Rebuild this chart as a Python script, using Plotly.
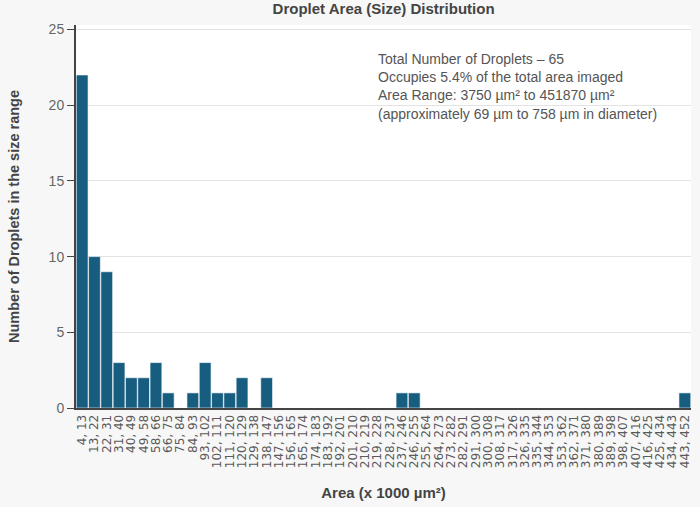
import plotly.graph_objects as go

bin_edges = [4, 13, 22, 31, 40, 49, 58, 66, 75, 84, 93, 102, 111, 120, 129, 138, 147, 156, 165,
             174, 183, 192, 201, 210, 219, 228, 237, 246, 255, 264, 273, 282, 291, 300, 308, 317,
             326, 335, 344, 353, 362, 371, 380, 389, 398, 407, 416, 425, 434, 443, 452]
categories = [f"{a}, {b}" for a, b in zip(bin_edges[:-1], bin_edges[1:])]
counts = [22, 10, 9, 3, 2, 2, 3, 1, 0, 1, 3, 1, 1, 2, 0, 2, 0, 0, 0, 0,
          0, 0, 0, 0, 0, 0, 1, 1, 0, 0, 0, 0, 0, 0, 0, 0, 0, 0, 0, 0,
          0, 0, 0, 0, 0, 0, 0, 0, 0, 1]

info_lines = [
    "Total Number of Droplets – 65",
    "Occupies 5.4% of the total area imaged",
    "Area Range: 3750 µm² to 451870 µm²",
    "(approximately 69 µm to 758 µm in diameter)",
]

fig = go.Figure(go.Bar(
    x=categories, y=counts,
    marker=dict(color="#175d80", line=dict(color="#ffffff", width=0.6)),
))

fig.update_layout(
    width=700, height=507,
    margin=dict(l=76, r=9, t=25, b=99),
    paper_bgcolor="#f7f7f7",
    plot_bgcolor="#ffffff",
    bargap=0.04,
    font=dict(family="Liberation Sans, Arial, sans-serif", color="#555555"),
    title=dict(text="<b>Droplet Area (Size) Distribution</b>", x=0.548, xanchor="center",
               y=0.993, yanchor="top", font=dict(size=15, color="#444444")),
    showlegend=False,
    annotations=[dict(
        text="<br>".join(info_lines), xref="paper", yref="paper",
        x=0.487, y=0.937, xanchor="left", yanchor="top", align="left",
        showarrow=False, font=dict(size=14, color="#555555"),
    )],
)

fig.update_xaxes(
    type="category", tickangle=-90,
    tickmode="array", tickvals=categories, ticktext=categories,
    tickfont=dict(size=12, color="#5a5a5a", family="DejaVu Sans, sans-serif"),
    showline=True, linecolor="#444444", linewidth=2, showgrid=False,
    ticks="", range=[-0.5, 49.5],
    title=dict(text="<b>Area (x 1000 µm²)</b>", font=dict(size=15, color="#444444"), standoff=20),
)
fig.update_yaxes(
    range=[0, 25.3], tickvals=[0, 5, 10, 15, 20, 25], tickfont=dict(size=14, color="#666666"),
    showline=True, linecolor="#444444", linewidth=2, ticks="outside", ticklen=7,
    tickcolor="#444444", showgrid=True, gridcolor="#e3e3e3", zeroline=False,
    title=dict(text="<b>Number of Droplets in the size range</b>",
               font=dict(size=14.5, color="#444444"), standoff=26),
)

fig.write_html("out.html", config={"displayModeBar": False},
               post_script="document.body.style.margin='0';")
